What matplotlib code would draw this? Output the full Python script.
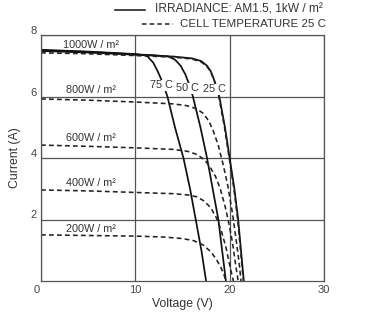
import numpy as np
import matplotlib.pyplot as plt
import matplotlib.transforms as mtransforms
from matplotlib.lines import Line2D

plt.rcParams['font.family'] = ['Liberation Sans', 'DejaVu Sans']

# solid curves: 1000 W/m2 at different cell temperatures
v_25c = [0, 5, 10, 14, 16, 17, 17.6, 18.0, 18.4, 18.9, 19.5, 20.0, 20.5, 20.9, 21.2, 21.5]
i_25c = [7.48, 7.43, 7.36, 7.3, 7.24, 7.15, 7.0, 6.82, 6.5, 6.0, 5.0, 4.0, 3.0, 2.0, 1.0, 0]
v_50c = [0, 5, 10, 12, 13.5, 14.2, 14.8, 15.3, 15.7, 16.1, 16.9, 17.6, 18.2, 18.8, 19.2, 19.6]
i_50c = [7.5, 7.45, 7.37, 7.34, 7.3, 7.2, 7.0, 6.72, 6.4, 6.0, 5.0, 4.0, 3.0, 2.0, 1.0, 0]
v_75c = [0, 5, 10, 11.2, 11.9, 12.4, 12.9, 13.4, 14.2, 15.1, 15.8, 16.4, 17.0, 17.5]
i_75c = [7.52, 7.46, 7.38, 7.33, 7.1, 6.8, 6.45, 6.0, 5.0, 4.0, 3.0, 2.0, 1.0, 0]

# dashed curves: 25 C at different irradiance
v_1000 = [0, 5, 10, 14, 16, 17, 17.6, 18.0, 18.4, 18.85, 19.45, 19.95, 20.45, 20.85, 21.15, 21.45]
i_1000 = [7.42, 7.39, 7.33, 7.28, 7.22, 7.12, 6.97, 6.8, 6.48, 6.0, 5.0, 4.0, 3.0, 2.0, 1.0, 0]
v_800 = [0, 5, 10, 14, 15.5, 16.5, 17.2, 17.8, 18.3, 18.8, 19.3, 19.8, 20.3, 20.7, 21.0, 21.2]
i_800 = [5.92, 5.88, 5.82, 5.76, 5.7, 5.6, 5.45, 5.2, 4.85, 4.4, 3.8, 3.1, 2.2, 1.3, 0.6, 0]
v_600 = [0, 5, 10, 14, 15.5, 16.5, 17.3, 17.9, 18.5, 19.0, 19.5, 19.9, 20.3, 20.6, 20.9]
i_600 = [4.42, 4.38, 4.33, 4.28, 4.22, 4.12, 3.95, 3.72, 3.4, 3.0, 2.45, 1.9, 1.25, 0.6, 0]
v_400 = [0, 5, 10, 14, 15.5, 16.5, 17.3, 18.0, 18.6, 19.1, 19.6, 19.95, 20.2, 20.4]
i_400 = [2.96, 2.93, 2.88, 2.84, 2.8, 2.74, 2.6, 2.38, 2.05, 1.65, 1.1, 0.6, 0.25, 0]
v_200 = [0, 5, 10, 13, 15, 16.2, 17.2, 18.0, 18.6, 19.1, 19.4, 19.6]
i_200 = [1.5, 1.48, 1.46, 1.43, 1.38, 1.31, 1.17, 0.95, 0.7, 0.42, 0.2, 0]

irr_labels = ['1000W / m\u00b2', '800W / m\u00b2', '600W / m\u00b2', '400W / m\u00b2', '200W / m\u00b2']
irr_label_y = [7.67, 6.2, 4.65, 3.2, 1.69]
temp_labels = ['75 C', '50 C', '25 C']
temp_label_x = [12.8, 15.5, 18.4]
temp_label_y = [6.37, 6.27, 6.24]

fig = plt.figure(figsize=(3.67, 3.16), dpi=100)
ax = fig.add_axes([41/367, 35/316, 283/367, 246/316])

for v, i in [(v_25c, i_25c), (v_50c, i_50c), (v_75c, i_75c)]:
    ax.plot(v, i, color='#111111', lw=1.25, solid_capstyle='butt')
for v, i in [(v_1000, i_1000), (v_800, i_800), (v_600, i_600), (v_400, i_400), (v_200, i_200)]:
    ax.plot(v, i, color='#222222', lw=1.15, dashes=(3, 2))

for lab, y in zip(irr_labels, irr_label_y):
    ax.text(5.3, y, lab, fontsize=7.8, ha='center', va='center', color='#333333')
for lab, x, y in zip(temp_labels, temp_label_x, temp_label_y):
    ax.text(x, y, lab, fontsize=7.8, ha='center', va='center', color='#333333',
            bbox=dict(facecolor='white', edgecolor='none', pad=0.3))

ax.set_xlim(0, 30)
ax.set_ylim(0, 8)
ax.set_xticks([0, 10, 20, 30])
ax.set_yticks([2, 4, 6, 8])
ax.grid(True, color='#555555', lw=0.9)
ax.set_axisbelow(True)
for s in ax.spines.values():
    s.set_color('#555555')
    s.set_linewidth(0.9)
ax.tick_params(length=0, labelsize=8, labelcolor='#444444', pad=3)
# y labels sit a little above the grid lines
off = mtransforms.ScaledTranslation(0, 5/100, fig.dpi_scale_trans)
for lbl in ax.get_yticklabels():
    lbl.set_transform(lbl.get_transform() + off)
xoff = mtransforms.ScaledTranslation(-4/100, 0, fig.dpi_scale_trans)
ax.get_xticklabels()[0].set_transform(ax.get_xticklabels()[0].get_transform() + xoff)

ax.set_xlabel('Voltage (V)', fontsize=8.8, color='#333333', labelpad=2)
ax.set_ylabel('Current (A)', fontsize=8.8, color='#333333', labelpad=7)

# legend drawn at figure level
fig.add_artist(Line2D([115/367, 145/367], [1 - 10/316, 1 - 10/316], color='#111111', lw=1.1))
fig.add_artist(Line2D([142/367, 173/367], [1 - 24/316, 1 - 24/316], color='#222222', lw=1.1, dashes=(3, 2)))
fig.text(155/367, 1 - 10/316, 'IRRADIANCE: AM1.5, 1kW / m\u00b2', fontsize=8.6, ha='left', va='center', color='#333333')
fig.text(180/367, 1 - 24/316, 'CELL TEMPERATURE 25 C', fontsize=8.25, ha='left', va='center', color='#333333')

fig.savefig('out.png', dpi=100)
